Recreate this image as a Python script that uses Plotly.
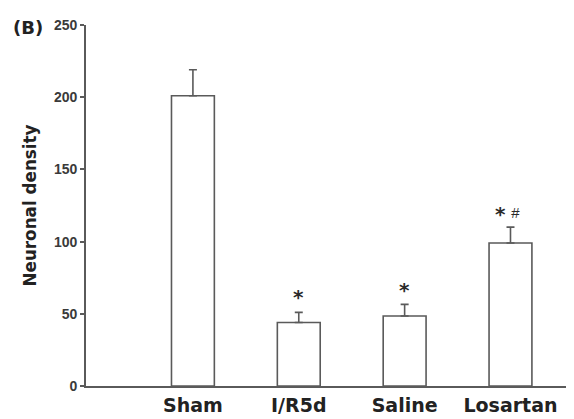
import plotly.graph_objects as go

categories = ["Sham", "I/R5d", "Saline", "Losartan"]
values = [201, 44, 48.5, 99]
errors = [18, 7, 8, 11]
star_y = [None, 63, 68, 120.5]
hash_y = [None, None, None, 120.5]
y_ticks = [0, 50, 100, 150, 200, 250]

AX = "#5a5a5a"
TXT = "#2a2a2a"
DV = "DejaVu Sans, Verdana"
AR = "Liberation Sans, Arial"

fig = go.Figure()
fig.add_trace(go.Bar(
    x=list(range(len(categories))), y=values, width=0.405,
    marker=dict(color="white", line=dict(color=AX, width=1.6)),
    error_y=dict(type="data", symmetric=False, array=errors,
                 arrayminus=[0] * len(errors), color=AX, thickness=1.6, width=4),
))

for i, (sy, hy) in enumerate(zip(star_y, hash_y)):
    if sy is not None:
        xs = i if hy is None else i - 0.09
        fig.add_annotation(x=xs, y=sy, text="<b>*</b>", showarrow=False,
                           yanchor="middle", yshift=-2,
                           font=dict(family=DV, size=20, color=TXT))
    if hy is not None:
        fig.add_annotation(x=i + 0.045, y=hy, text="<i>#</i>", showarrow=False,
                           yanchor="middle",
                           font=dict(family=AR, size=15, color=TXT))

fig.add_annotation(xref="paper", yref="paper", x=-0.1537, y=0.993, xanchor="left",
                   yanchor="middle", text="<b>(B)</b>", showarrow=False,
                   font=dict(family=DV, size=18, color="#222222"))

fig.update_layout(
    width=566, height=411,
    margin=dict(l=78, r=0, t=17, b=33),
    paper_bgcolor="white", plot_bgcolor="white",
    showlegend=False,
    font=dict(family=AR, color=TXT),
)
fig.update_xaxes(
    range=[-1.01, 3.6], tickvals=list(range(len(categories))),
    ticktext=[f"<b>{c}</b>" for c in categories],
    tickfont=dict(family=DV, size=19, color="#222222"),
    ticklabelstandoff=1, automargin=False,
    showline=True, linecolor=AX, linewidth=1.6, ticks="", showgrid=False,
    zeroline=False,
)
fig.update_yaxes(
    range=[0, 250], tickvals=y_ticks, ticktext=[f"<b>{t}</b>" for t in y_ticks],
    tickfont=dict(family=AR, size=14, color="#3a3a3a"), automargin=False,
    showline=True, linecolor=AX, linewidth=1.6, ticks="outside", ticklen=4,
    tickcolor=AX, tickwidth=1.6, showgrid=False, zeroline=False,
    title=dict(text="<b>Neuronal density</b>", font=dict(family=DV, size=16.8, color="#222222"), standoff=13),
)

fig.write_html("out.html")
